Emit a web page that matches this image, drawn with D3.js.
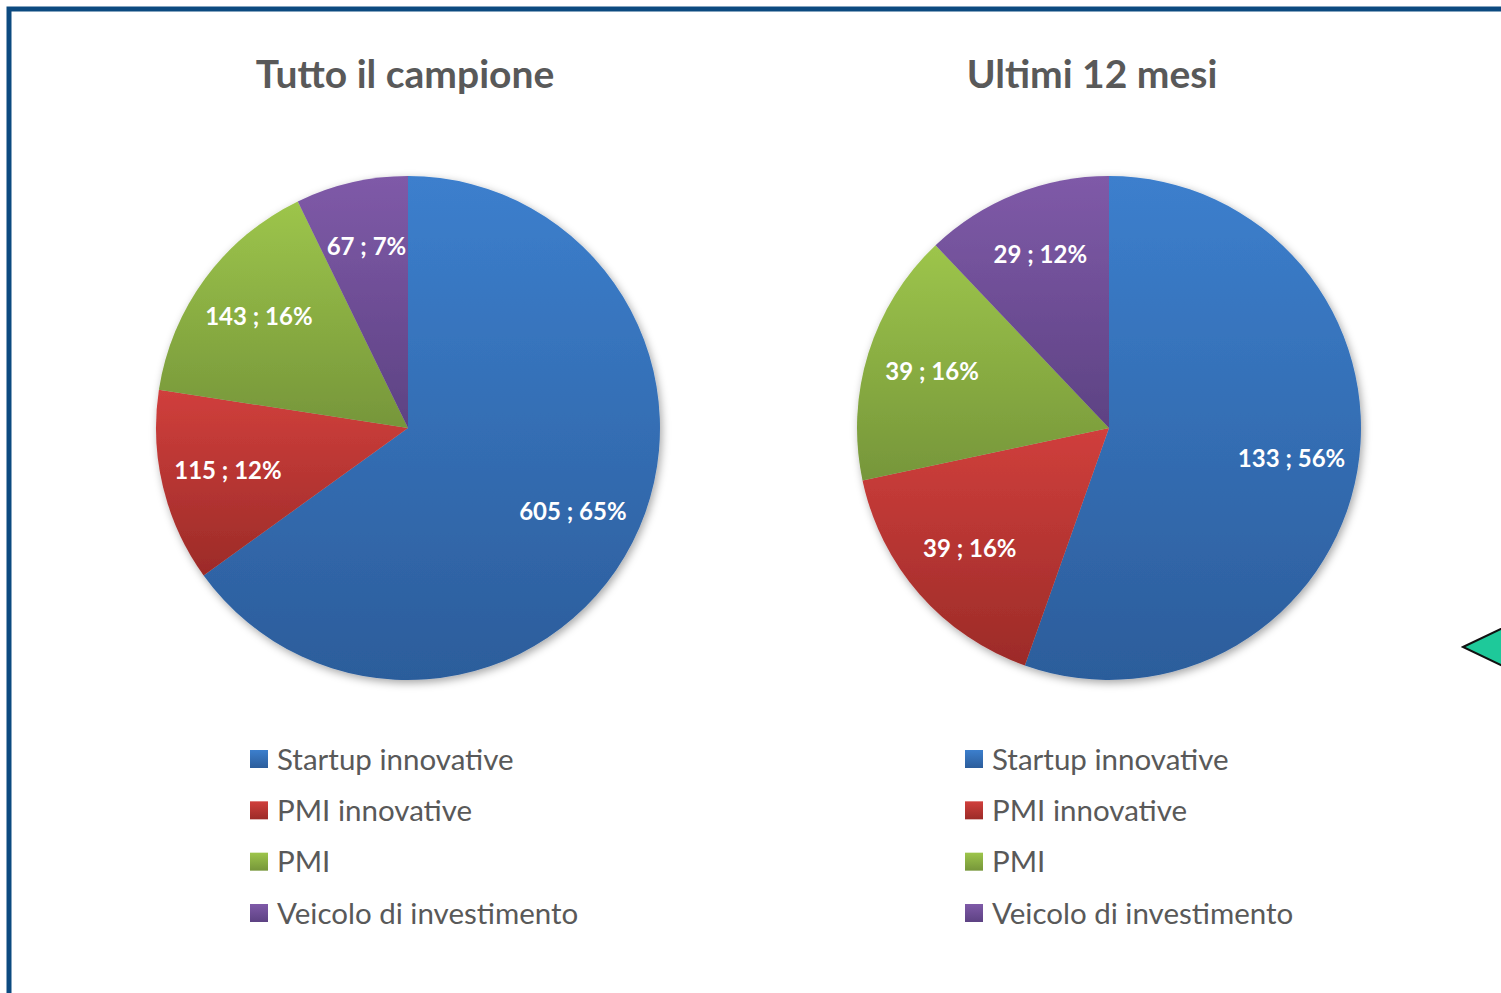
<!DOCTYPE html>
<meta charset="utf-8">
<style>
body { margin: 0; background: #fff; }
svg { display: block; }
.title { font: 700 39px Lato, sans-serif; fill: #595959; }
.lbl { font: 700 24px Lato, sans-serif; fill: #fff; }
.leg { font: 400 29.5px Lato, sans-serif; fill: #595959; }
</style>
<body>
<script src="https://d3js.org/d3.v7.min.js"></script>
<div id="chart"></div>
<script>

// categories + values
var categories = ["Startup innovative", "PMI innovative", "PMI", "Veicolo di investimento"];
var titles = ["Tutto il campione", "Ultimi 12 mesi"];
var valuesAll = [605, 115, 143, 67];
var valuesYear = [133, 39, 39, 29];
var pctAll = ["65%", "12%", "16%", "7%"];
var pctYear = ["56%", "16%", "16%", "12%"];

var width = 1501, height = 993;
var r = 252;

// top / bottom colours of each slice gradient
var colTop = ["#3c7fcd", "#d03f3c", "#9dc54b", "#7f5aa8"];
var colBot = ["#2c5d9b", "#9c2b28", "#76963a", "#5d4283"];

var svg = d3.select("#chart").append("svg")
    .attr("width", width)
    .attr("height", height);

var defs = svg.append("defs");

categories.forEach(function(c, i) {
  var g = defs.append("linearGradient")
      .attr("id", "grad" + i)
      .attr("x1", 0).attr("y1", 0).attr("x2", 0).attr("y2", 1);
  g.append("stop").attr("offset", "0%").attr("stop-color", colTop[i]);
  g.append("stop").attr("offset", "100%").attr("stop-color", colBot[i]);
});

var f = defs.append("filter").attr("id", "shadow")
    .attr("x", "-10%").attr("y", "-10%").attr("width", "120%").attr("height", "120%");
f.append("feDropShadow")
    .attr("dx", 2).attr("dy", 3).attr("stdDeviation", 4)
    .attr("flood-color", "#000").attr("flood-opacity", 0.35);

// frame
svg.append("rect")
    .attr("x", 9).attr("y", 9)
    .attr("width", width + 20).attr("height", height + 20)
    .attr("fill", "none")
    .attr("stroke", "#0c4a80")
    .attr("stroke-width", 5);

// the teal arrow poking in from the right
svg.append("path")
    .attr("d", d3.line()([[1463, 647], [1530, 615], [1530, 679]]) + "Z")
    .attr("fill", "#1ec99a")
    .attr("stroke", "#111")
    .attr("stroke-width", 2);

var pie = d3.pie().sort(null).value(function(d) { return d; });
var arc = d3.arc().innerRadius(0).outerRadius(r);
var labelArc = d3.arc().innerRadius(r * 0.735).outerRadius(r * 0.735);

var charts = [
  {cx: 408, titleX: 405, title: titles[0], values: valuesAll, pct: pctAll, legX: 250},
  {cx: 1109, titleX: 1092, title: titles[1], values: valuesYear, pct: pctYear, legX: 965}
];

charts.forEach(function(ch) {
  var g = svg.append("g").attr("transform", "translate(" + ch.cx + ",428)");

  svg.append("text")
      .attr("class", "title")
      .attr("x", ch.titleX)
      .attr("y", 88)
      .attr("text-anchor", "middle")
      .text(ch.title);

  var arcs = pie(ch.values);

  g.append("g").attr("filter", "url(#shadow)")
    .selectAll("path")
    .data(arcs)
    .enter().append("path")
      .attr("d", arc)
      .attr("fill", function(d, i) { return "url(#grad" + i + ")"; });

  g.selectAll(".lbl")
    .data(arcs)
    .enter().append("text")
      .attr("class", "lbl")
      .attr("text-anchor", "middle")
      .attr("dy", "0.3em")
      .attr("transform", function(d) { return "translate(" + labelArc.centroid(d) + ")"; })
      .text(function(d, i) { return d.data + " ; " + ch.pct[i]; });

  // legend
  var y = d3.scalePoint().domain(categories).range([759, 913]);
  var leg = svg.append("g").selectAll("g")
    .data(categories)
    .enter().append("g")
      .attr("transform", function(d) { return "translate(" + ch.legX + "," + y(d) + ")"; });
  leg.append("rect")
      .attr("x", 0).attr("y", -9)
      .attr("width", 18).attr("height", 18)
      .attr("fill", function(d, i) { return "url(#grad" + i + ")"; });
  leg.append("text")
      .attr("class", "leg")
      .attr("x", 27)
      .attr("dy", "0.36em")
      .text(function(d) { return d; });
});

</script>
</body>
</html>
